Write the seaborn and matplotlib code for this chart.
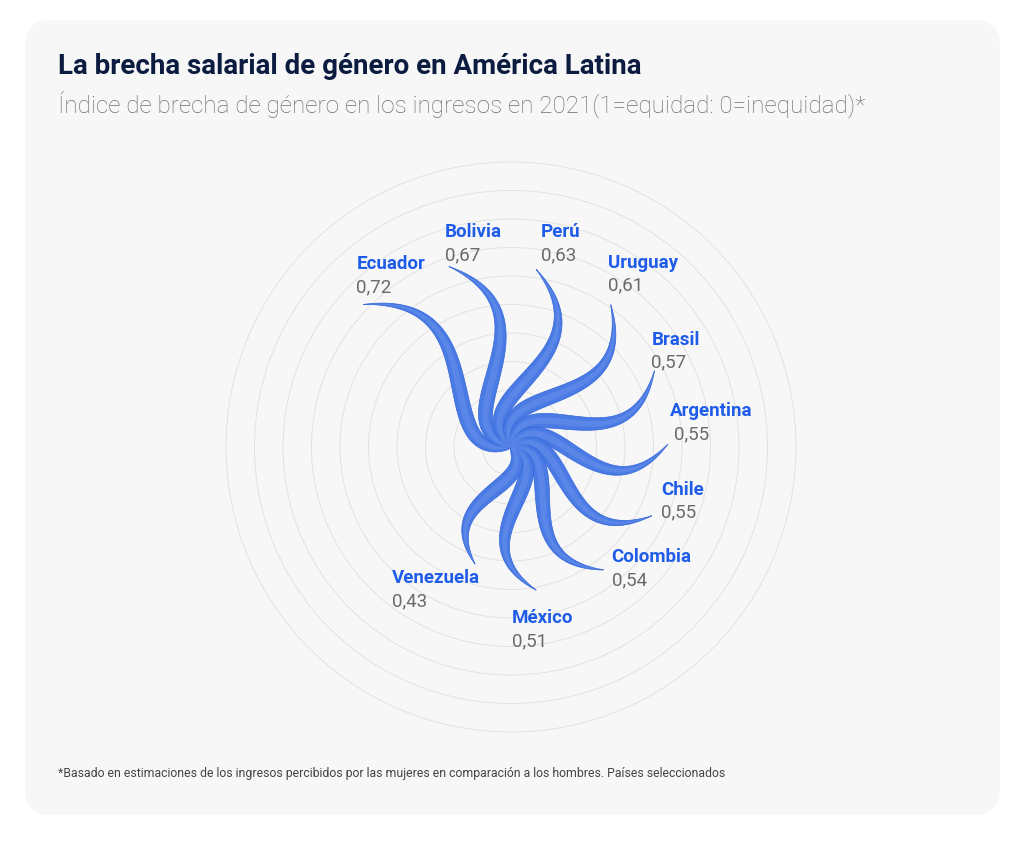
import numpy as np
import matplotlib.pyplot as plt
import seaborn as sns
from matplotlib.patches import FancyBboxPatch, Circle

# Datos: índice de brecha de género en los ingresos (2021)
paises = ["Ecuador", "Bolivia", "Perú", "Uruguay", "Brasil",
          "Argentina", "Chile", "Colombia", "México", "Venezuela"]
indice = [0.72, 0.67, 0.63, 0.61, 0.57, 0.55, 0.55, 0.54, 0.51, 0.43]
etiquetas = ["0,72", "0,67", "0,63", "0,61", "0,57",
             "0,55", "0,55", "0,54", "0,51", "0,43"]

sns.set_theme(style="white")
plt.rcParams["font.family"] = ["Roboto", "DejaVu Sans"]

W, H = 1024, 841
CX, CY = 511, 447      # centro del espiral en pixeles
UNIT = 285             # pixeles por unidad del indice

fig = plt.figure(figsize=(W / 100, H / 100), dpi=100)
fig.patch.set_facecolor("white")

# tarjeta de fondo
bg = fig.add_axes([0, 0, 1, 1])
bg.set_xlim(0, W)
bg.set_ylim(H, 0)
bg.axis("off")
bg.add_patch(FancyBboxPatch((25, 20), 975, 795,
                            boxstyle="round,pad=0,rounding_size=26",
                            fc="#f7f7f7", ec="none"))

ax = fig.add_axes([0, 0, 1, 1])
ax.set_xlim(-CX / UNIT, (W - CX) / UNIT)
ax.set_ylim(-(H - CY) / UNIT, CY / UNIT)
ax.axis("off")
ax.patch.set_alpha(0)

# anillos de referencia cada 0.1
for k in range(1, 11):
    ax.add_patch(Circle((0, 0), k / 10, fill=False, ec="#e2e2e2", lw=0.7))

# forma de los petalos (curva de Bezier en S)
t = np.linspace(0, 1, 240)
P = np.array([[0, 0], [0.25, 0.34], [0.55, -0.5], [1, 0]])
curva = (((1 - t) ** 3)[:, None] * P[0] + (3 * (1 - t) ** 2 * t)[:, None] * P[1]
         + (3 * (1 - t) * t ** 2)[:, None] * P[2] + (t ** 3)[:, None] * P[3])
perfil = t ** 0.5 * (1 - t) ** 0.9
perfil = perfil / perfil.max()
ancho = 14.5 / UNIT

angulos = np.deg2rad(136 - 27 * np.arange(len(paises)))

# desplazamiento de las etiquetas respecto a la punta (pixeles)
offs = [(-7, 40), (-4, 34), (5, 37), (-3, 42), (-3, 31),
        (2, 33), (9, 26), (8, 13), (-24, -28), (-83, -14)]

for nombre, val, txt, ang, (dx, dy) in zip(paises, indice, etiquetas, angulos, offs):
    c, s = np.cos(ang), np.sin(ang)
    u, v = curva[:, 0] * val, curva[:, 1] * val
    x = u * c - v * s
    y = u * s + v * c
    tx, ty = np.gradient(x), np.gradient(y)
    nrm = np.hypot(tx, ty)
    nx, ny = -ty / nrm, tx / nrm
    w = ancho * perfil / 2
    px = np.concatenate([x + nx * w, (x - nx * w)[::-1]])
    py = np.concatenate([y + ny * w, (y - ny * w)[::-1]])
    ax.fill(px, py, fc="#4a7ae4", ec="#3265da", lw=0.5, zorder=3)
    w2 = w * 0.45
    px2 = np.concatenate([x + nx * w2, (x - nx * w2)[::-1]])
    py2 = np.concatenate([y + ny * w2, (y - ny * w2)[::-1]])
    ax.fill(px2, py2, fc="#7099ec", ec="none", alpha=0.4, zorder=4)

    punta = (x[-1], y[-1])
    ax.annotate(nombre, xy=punta, xytext=(dx, dy), textcoords="offset pixels",
                ha="left", va="center", fontsize=13.5, fontweight="bold",
                color="#1f5ce8", zorder=5)
    extra = 4 if nombre == "Argentina" else 0
    ax.annotate(txt, xy=punta, xytext=(dx + extra, dy - 23), textcoords="offset pixels",
                ha="left", va="center", fontsize=13.5, fontweight="normal",
                color="#6a6a6a", zorder=5)

fig.text(58 / W, 1 - 66 / H, "La brecha salarial de género en América Latina",
         fontsize=20, fontweight="bold", color="#0c1c40", va="center", ha="left")
fig.text(58 / W, 1 - 104 / H,
         "Índice de brecha de género en los ingresos en 2021(1=equidad: 0=inequidad)*",
         fontsize=17.5, fontweight="light", color="#6f6f6f", va="center", ha="left")
fig.text(58 / W, 1 - 773 / H,
         "*Basado en estimaciones de los ingresos percibidos por las mujeres en "
         "comparación a los hombres. Países seleccionados",
         fontsize=8.8, color="#444444", va="center", ha="left")

fig.savefig("out.png", dpi=100)
